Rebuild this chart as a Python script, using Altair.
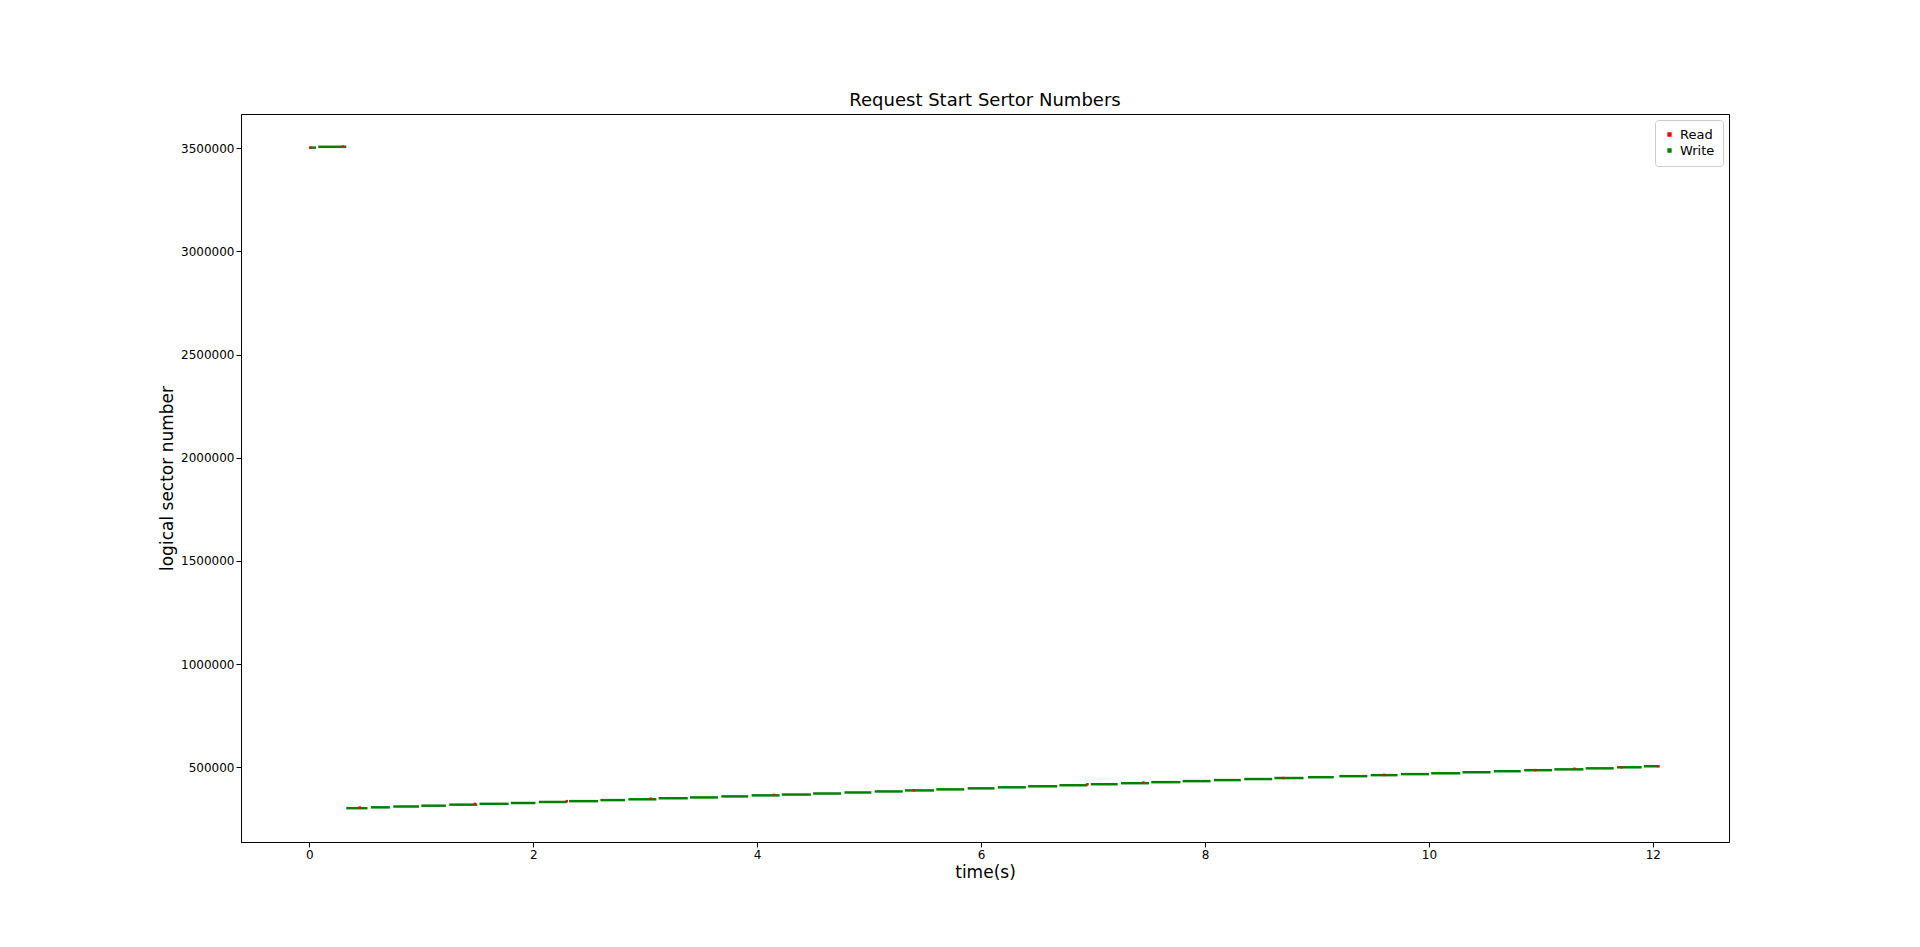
import pandas as pd
import altair as alt

# write runs: start time, end time, sector
w_t0 = [0.00, 0.08, 0.33, 0.55, 0.75, 1.00, 1.25, 1.52, 1.80, 2.05, 2.32, 2.60, 2.85, 3.12, 3.40, 3.68,
        3.95, 4.22, 4.50, 4.78, 5.05, 5.32, 5.60, 5.88, 6.15, 6.42, 6.70, 6.98, 7.25, 7.52, 7.80, 8.08,
        8.35, 8.62, 8.92, 9.20, 9.48, 9.75, 10.02, 10.30, 10.58, 10.85, 11.12, 11.40, 11.68, 11.92]
w_t1 = [0.06, 0.33, 0.52, 0.72, 0.98, 1.22, 1.50, 1.78, 2.02, 2.30, 2.58, 2.82, 3.10, 3.38, 3.65, 3.92,
        4.20, 4.48, 4.75, 5.02, 5.30, 5.58, 5.85, 6.12, 6.40, 6.68, 6.95, 7.22, 7.50, 7.78, 8.05, 8.32,
        8.60, 8.88, 9.15, 9.45, 9.72, 10.00, 10.28, 10.55, 10.82, 11.10, 11.38, 11.65, 11.90, 12.05]
w_y = [3503000, 3507000, 302000, 306000, 310000, 314000, 319000, 323000, 327000, 332000, 336000, 341000,
       345000, 350000, 354000, 359000, 364000, 368000, 373000, 378000, 383000, 388000, 393000, 398000,
       403000, 408000, 413000, 418000, 423000, 428000, 433000, 438000, 443000, 448000, 452000, 457000,
       462000, 467000, 471000, 476000, 481000, 486000, 490000, 495000, 500000, 505000]

# read points
r_t = [0.01, 0.30, 0.45, 1.48, 2.30, 3.05, 4.15, 5.40, 6.95, 7.45, 8.70, 9.60, 10.95, 11.30, 11.72, 12.05]
r_y = [3503000, 3508000, 305000, 323000, 336000, 348000, 366000, 389000, 418000, 426000, 448000, 463000,
       486000, 493000, 500000, 505000]

writes = pd.DataFrame({"t": w_t0, "t2": w_t1, "y": w_y, "kind": "Write"})
reads = pd.DataFrame({"t": r_t, "y": r_y, "kind": "Read"})

xs = alt.Scale(domain=[-0.61, 12.68], nice=False, zero=False)
ys = alt.Scale(domain=[138000, 3666000], nice=False, zero=False)
col = alt.Scale(domain=["Read", "Write"], range=["red", "green"])

xax = alt.Axis(grid=False, values=list(range(0, 13, 2)), format="d", title="time(s)", titleFontSize=17,
               titleFontWeight="normal", labelFontSize=12, tickColor="black", domainColor="black",
               labelColor="black", titleColor="black")
yax = alt.Axis(grid=False, values=[500000, 1000000, 1500000, 2000000, 2500000, 3000000, 3500000],
               format="d", title="logical sector number", titleFontSize=17, titleFontWeight="normal",
               labelFontSize=12, tickColor="black", domainColor="black", labelColor="black",
               titleColor="black")

rd = alt.Chart(reads).mark_square(size=6, opacity=1).encode(
    x=alt.X("t:Q", scale=xs, axis=xax),
    y=alt.Y("y:Q", scale=ys, axis=yax),
    color=alt.Color("kind:N", scale=col, title=None,
                    legend=alt.Legend(orient="top-right", strokeColor="#ccc", padding=8,
                                      symbolType="square", symbolSize=8, labelFontSize=13,
                                      fillColor="white", cornerRadius=3, offset=6)),
)
wr = alt.Chart(writes).mark_rule(strokeWidth=2.5).encode(
    x="t:Q", x2="t2:Q", y="y:Q",
    color=alt.Color("kind:N", scale=col),
)

chart = alt.layer(wr, rd).properties(
    width=1488, height=728,
    title=alt.Title("Request Start Sertor Numbers", fontSize=18, fontWeight="normal", color="black"),
    padding={"left": 150, "top": 84, "right": 10, "bottom": 10},
).configure(font="DejaVu Sans").configure_view(stroke="black", strokeWidth=1)

chart.save("out.html", embed_options={"renderer": "svg", "actions": False})
